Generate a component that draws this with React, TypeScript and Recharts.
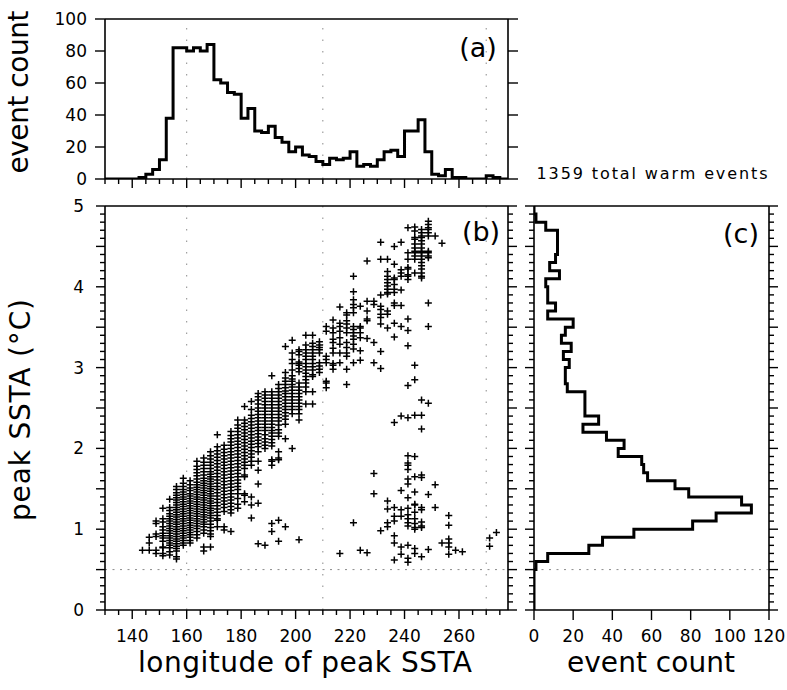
import { ScatterChart, Scatter, XAxis, YAxis, ReferenceLine } from "recharts";

const W = 787;
const H = 690;
const FONT = "'DejaVu Sans', sans-serif";
const INK = "#000";

// (a) event count per 2.5° longitude bin, bins start at 130°E
const lonBinStart = 130;
const lonBinWidth = 2.5;
const lonCounts = [
  0, 0, 0, 0, 0, 1, 3, 6, 12, 38,
  82, 82, 80, 82, 80, 84, 62, 60, 54, 53,
  38, 44, 30, 29, 33, 26, 23, 17, 20, 15,
  14, 11, 9, 13, 12, 13, 17, 8, 9, 8,
  12, 17, 18, 14, 30, 30, 37, 17, 3, 2,
  6, 1, 1, 0, 0, 0, 2, 1, 0, 0,
];

// (c) event count per 0.1 °C peak SSTA bin, bins start at 0
const sstaBinStart = 0;
const sstaBinWidth = 0.1;
const sstaCounts = [
  0, 0, 0, 0, 0, 1, 7, 28, 35, 51,
  81, 93, 111, 106, 79, 72, 58, 56, 55, 43,
  46, 37, 25, 33, 26, 26, 26, 17, 16, 16,
  18, 15, 19, 14, 16, 20, 7, 11, 7, 7,
  6, 13, 8, 11, 12, 12, 12, 6, 1, 0,
];

// (b) peak SSTA of each event, grouped by longitude column
const scatterColumns: [number, number[]][] = [
  [143.75, [0.74]],
  [146.25, [0.9, 0.83, 0.74]],
  [148.75, [1.1, 1.07, 0.94, 0.91, 0.74, 0.7]],
  [151.25, [1.26, 1.13, 1.09, 1.03, 0.99, 0.95, 0.92, 0.89, 0.85, 0.78, 0.77, 0.7, 0.67]],
  [153.75, [1.37, 1.27, 1.23, 1.19, 1.16, 1.13, 1.1, 1.07, 1.04, 1.01, 0.98, 0.95, 0.92, 0.89, 0.86, 0.83, 0.8, 0.77, 0.72, 0.68]],
  [156.25, [1.53, 1.49, 1.45, 1.42, 1.39, 1.36, 1.33, 1.3, 1.27, 1.24, 1.21, 1.18, 1.15, 1.12, 1.09, 1.06, 1.03, 1.0, 0.97, 0.94, 0.91, 0.88, 0.85, 0.82, 0.79, 0.76, 0.73, 0.66, 0.63]],
  [158.75, [1.63, 1.57, 1.53, 1.49, 1.46, 1.43, 1.4, 1.37, 1.34, 1.31, 1.28, 1.25, 1.22, 1.19, 1.16, 1.13, 1.1, 1.07, 1.04, 1.01, 0.98, 0.95, 0.92, 0.89, 0.86, 0.83, 0.8]],
  [161.25, [1.6, 1.55, 1.51, 1.48, 1.44, 1.41, 1.38, 1.35, 1.32, 1.29, 1.26, 1.23, 1.2, 1.17, 1.14, 1.11, 1.08, 1.05, 1.02, 0.99, 0.96, 0.93, 0.9, 0.86, 0.83]],
  [163.75, [1.84, 1.78, 1.74, 1.7, 1.66, 1.62, 1.58, 1.55, 1.52, 1.49, 1.46, 1.43, 1.4, 1.37, 1.34, 1.31, 1.28, 1.25, 1.22, 1.19, 1.16, 1.13, 1.1, 1.07, 1.04, 1.01, 0.97, 0.93, 0.89]],
  [166.25, [1.88, 1.83, 1.79, 1.75, 1.71, 1.67, 1.63, 1.6, 1.57, 1.54, 1.51, 1.48, 1.45, 1.42, 1.39, 1.36, 1.33, 1.3, 1.27, 1.24, 1.21, 1.18, 1.15, 1.12, 1.09, 1.06, 1.03, 0.99, 0.95, 0.78, 0.73]],
  [168.75, [1.96, 1.91, 1.87, 1.83, 1.79, 1.75, 1.71, 1.68, 1.65, 1.62, 1.59, 1.56, 1.53, 1.5, 1.47, 1.44, 1.41, 1.38, 1.35, 1.32, 1.29, 1.26, 1.23, 1.2, 1.17, 1.14, 1.1, 1.06, 1.02, 0.98, 0.94, 0.91, 0.78]],
  [171.25, [2.17, 2.02, 1.97, 1.93, 1.89, 1.85, 1.81, 1.77, 1.73, 1.69, 1.65, 1.61, 1.57, 1.53, 1.49, 1.45, 1.41, 1.37, 1.33, 1.29, 1.25, 1.21, 1.17, 1.13, 1.11, 1.03]],
  [173.75, [2.04, 1.99, 1.95, 1.91, 1.87, 1.83, 1.79, 1.75, 1.71, 1.67, 1.63, 1.59, 1.55, 1.51, 1.47, 1.43, 1.39, 1.35, 1.31, 1.27, 1.22, 1.03, 0.99]],
  [176.25, [2.21, 2.16, 2.12, 2.08, 2.04, 2.0, 1.96, 1.92, 1.88, 1.84, 1.8, 1.76, 1.72, 1.68, 1.64, 1.6, 1.56, 1.52, 1.48, 1.44, 1.4, 1.36, 1.32, 1.28, 1.24, 1.2, 0.97]],
  [178.75, [2.35, 2.29, 2.25, 2.21, 2.17, 2.13, 2.09, 2.05, 2.01, 1.97, 1.93, 1.89, 1.85, 1.81, 1.77, 1.73, 1.69, 1.65, 1.61, 1.57, 1.53, 1.49, 1.44, 1.38, 1.31, 1.26]],
  [181.25, [2.52, 2.35, 2.31, 2.27, 2.23, 2.19, 2.15, 2.11, 2.07, 2.03, 1.99, 1.95, 1.91, 1.87, 1.83, 1.79, 1.75, 1.67, 1.65, 1.44, 1.42, 1.34]],
  [183.75, [2.58, 2.48, 2.41, 2.37, 2.33, 2.29, 2.25, 2.21, 2.17, 2.13, 2.09, 2.05, 2.01, 1.97, 1.93, 1.89, 1.84, 1.79, 1.4, 1.3, 1.14]],
  [186.25, [2.68, 2.64, 2.6, 2.55, 2.5, 2.46, 2.42, 2.38, 2.34, 2.3, 2.26, 2.22, 2.18, 2.14, 2.1, 2.06, 2.02, 1.96, 1.84, 1.73, 1.56, 1.32, 0.82]],
  [188.75, [2.7, 2.66, 2.62, 2.58, 2.54, 2.5, 2.46, 2.42, 2.38, 2.34, 2.3, 2.26, 2.22, 2.17, 2.12, 2.08, 2.04, 2.0, 0.8]],
  [191.25, [2.9, 2.7, 2.66, 2.62, 2.58, 2.54, 2.5, 2.46, 2.42, 2.38, 2.34, 2.3, 2.26, 2.22, 2.19, 2.15, 2.11, 2.07, 2.03, 1.86, 1.84, 1.79, 1.07, 0.97]],
  [193.75, [2.79, 2.74, 2.7, 2.66, 2.62, 2.58, 2.54, 2.5, 2.46, 2.42, 2.38, 2.34, 2.29, 2.23, 2.19, 2.15, 1.96, 1.88, 1.86, 1.11, 0.85]],
  [196.25, [3.26, 2.94, 2.87, 2.83, 2.79, 2.75, 2.71, 2.68, 2.64, 2.6, 2.56, 2.52, 2.48, 2.44, 2.4, 2.36, 2.3, 2.12, 1.03]],
  [198.75, [3.34, 3.18, 3.1, 3.05, 2.97, 2.9, 2.86, 2.83, 2.79, 2.76, 2.72, 2.68, 2.64, 2.6, 2.56, 2.52, 2.48, 2.43, 2.0]],
  [201.25, [3.22, 3.2, 3.16, 3.07, 3.05, 3.03, 2.99, 2.95, 2.81, 2.76, 2.72, 2.68, 2.64, 2.6, 2.56, 2.52, 2.48, 2.43, 2.35, 0.87]],
  [203.75, [3.4, 3.28, 3.22, 3.18, 3.14, 3.1, 3.05, 3.01, 2.97, 2.93, 2.89, 2.85, 2.81, 2.76, 2.7, 2.55]],
  [206.25, [3.4, 3.3, 3.26, 3.22, 3.18, 3.14, 3.1, 3.05, 3.01, 2.97, 2.91, 2.89, 2.7, 2.55]],
  [208.75, [3.32, 3.28, 3.25, 3.22, 3.18, 3.06, 3.02, 2.98, 2.94]],
  [211.25, [3.51, 3.45, 3.14, 3.1, 3.06, 2.83, 2.81, 2.75]],
  [213.75, [3.59, 3.49, 3.43, 3.35, 3.31, 3.24, 3.18, 3.05, 3.03, 2.98]],
  [216.25, [3.75, 3.55, 3.51, 3.45, 3.37, 3.29, 3.18, 3.06, 0.7]],
  [218.75, [3.68, 3.65, 3.58, 3.54, 3.49, 3.43, 3.31, 3.25, 3.18, 3.14, 2.98, 2.79]],
  [221.25, [4.13, 3.94, 3.84, 3.78, 3.74, 3.68, 3.51, 3.47, 3.43, 3.39, 3.35, 3.29, 3.23, 3.06, 1.08]],
  [223.75, [3.76, 3.51, 3.49, 3.43, 3.37, 3.21, 3.09, 0.74]],
  [226.25, [4.32, 3.82, 3.7, 3.6, 3.58, 3.36, 0.71]],
  [228.75, [3.82, 3.78, 3.31, 3.06, 1.69, 1.44]],
  [231.25, [4.55, 4.34, 3.9, 3.76, 3.72, 3.66, 3.62, 3.54, 3.2, 2.99, 0.98]],
  [233.75, [4.34, 4.19, 4.13, 4.09, 4.05, 4.01, 3.97, 3.93, 3.91, 3.7, 3.66, 3.49, 1.35, 1.25, 1.08, 1.03]],
  [236.25, [4.5, 4.28, 4.11, 4.09, 4.03, 3.97, 3.93, 3.8, 3.77, 3.55, 3.38, 2.32, 1.27, 1.16, 1.1, 0.92, 0.83, 0.62]],
  [238.75, [4.55, 4.21, 4.17, 4.13, 3.96, 3.77, 3.51, 2.4, 1.48, 1.24, 1.16, 0.78, 0.69]],
  [241.25, [4.73, 4.42, 4.34, 4.24, 4.22, 4.15, 4.13, 4.09, 3.6, 3.46, 3.27, 2.78, 2.38, 1.91, 1.82, 1.79, 1.74, 1.62, 1.56, 1.39, 1.26, 1.18, 1.13, 1.08, 1.04, 0.8, 0.64, 0.59]],
  [243.75, [4.74, 4.69, 4.61, 4.59, 4.53, 4.48, 4.44, 4.42, 4.38, 4.34, 4.17, 3.03, 2.85, 2.41, 1.9, 1.65, 1.46, 1.31, 1.3, 1.21, 1.13, 1.07, 1.02, 1.0, 0.76, 0.7]],
  [246.25, [4.71, 4.67, 4.63, 4.61, 4.57, 4.53, 4.48, 4.44, 4.42, 4.38, 4.34, 4.3, 4.26, 4.22, 4.17, 4.13, 4.11, 2.6, 2.41, 2.24, 1.67, 1.64, 1.27, 1.24, 1.09, 1.04, 1.02, 0.66]],
  [248.75, [4.81, 4.77, 4.73, 4.71, 4.67, 4.63, 4.44, 4.42, 4.38, 4.36, 3.8, 3.51, 2.56, 1.43, 0.75]],
  [251.25, [4.63, 1.55, 1.27]],
  [253.75, [4.54, 0.83]],
  [256.25, [1.17, 1.05, 0.88, 0.83, 0.78, 0.69]],
  [258.75, [0.74]],
  [261.25, [0.72]],
  [271.25, [0.89, 0.79]],
  [273.75, [0.96]],
];

const lonTicks = [
  130, 135, 140, 145, 150, 155, 160, 165, 170, 175, 180, 185, 190, 195, 200,
  205, 210, 215, 220, 225, 230, 235, 240, 245, 250, 255, 260, 265, 270, 275,
];
const lonLabels = [140, 160, 180, 200, 220, 240, 260];
const sstaTicks = [
  0, 0.1, 0.2, 0.3, 0.4, 0.5, 0.6, 0.7, 0.8, 0.9, 1, 1.1, 1.2, 1.3, 1.4, 1.5, 1.6,
  1.7, 1.8, 1.9, 2, 2.1, 2.2, 2.3, 2.4, 2.5, 2.6, 2.7, 2.8, 2.9, 3, 3.1, 3.2, 3.3,
  3.4, 3.5, 3.6, 3.7, 3.8, 3.9, 4, 4.1, 4.2, 4.3, 4.4, 4.5, 4.6, 4.7, 4.8, 4.9, 5,
];
const sstaLabels = [0, 1, 2, 3, 4, 5];
const countTicksA = [0, 20, 40, 60, 80, 100];
const countTicksC = [0, 20, 40, 60, 80, 100, 120];
const lonGuides = [160, 210, 270];
const sstaGuide = 0.5;

const lonDomain: [number, number] = [130, 278];
const sstaDomain: [number, number] = [0, 5];

const lonHist = lonCounts.flatMap((count, i) => [
  { lon: lonBinStart + i * lonBinWidth, count },
  { lon: lonBinStart + (i + 1) * lonBinWidth, count },
]);
const sstaHist = sstaCounts.flatMap((count, i) => [
  { ssta: sstaBinStart + i * sstaBinWidth, count },
  { ssta: sstaBinStart + (i + 1) * sstaBinWidth, count },
]);
const scatterData = scatterColumns.flatMap(([lon, vals]) => vals.map((ssta) => ({ lon, ssta })));

type Side = "top" | "bottom" | "left" | "right";

const lonLen = (v: number) => (v % 20 === 0 ? 9 : 5);
const sstaLen = (v: number) => (Math.round(v * 10) % 5 === 0 ? 9 : 5);
const countLen = () => 10;

// draws outward ticks (varying length) plus optional label
function makeTick(side: Side, lenOf: (v: number) => number, labelOf?: (v: number) => string | null, gap = 12) {
  return (props: any) => {
    const { x, y, payload } = props;
    const v = payload.value as number;
    const len = lenOf(v);
    const label = labelOf ? labelOf(v) : null;
    let x2 = x;
    let y2 = y;
    if (side === "bottom") y2 = y + len;
    if (side === "top") y2 = y - len;
    if (side === "left") x2 = x - len;
    if (side === "right") x2 = x + len;
    return (
      <g>
        <line x1={x} y1={y} x2={x2} y2={y2} stroke={INK} strokeWidth={1.4} />
        {label != null && side === "bottom" && (
          <text x={x} y={y + 32} textAnchor="middle" fontSize={17} fontFamily={FONT} fill={INK}>
            {label}
          </text>
        )}
        {label != null && side === "left" && (
          <text x={x - gap} y={y + 6} textAnchor="end" fontSize={17} fontFamily={FONT} fill={INK}>
            {label}
          </text>
        )}
      </g>
    );
  };
}

const axisLine = { stroke: INK, strokeWidth: 1.6 };
// axes are 1px thick (0 would hide them); margins below are reduced by 1 to compensate
const axisCommon = {
  type: "number" as const,
  allowDataOverflow: true,
  interval: 0 as const,
  tickSize: 0,
  tickMargin: 0,
  tickLine: false,
  axisLine,
};

const Plus = (p: any) => (
  <path d={`M${p.cx - 3.5},${p.cy}h7M${p.cx},${p.cy - 3.5}v7`} stroke={INK} strokeWidth={1.5} fill="none" />
);
const NoDot = () => <g />;

const isInt = (v: number) => Math.abs(v - Math.round(v)) < 1e-6;

function PanelA() {
  return (
    <ScatterChart width={W} height={H} margin={{ top: 18, left: 104, right: 278, bottom: 510 }}>
      <XAxis {...axisCommon} xAxisId="x" dataKey="lon" domain={lonDomain} ticks={lonTicks} height={1}
        tick={makeTick("bottom", lonLen)} />
      <XAxis {...axisCommon} xAxisId="xt" orientation="top" domain={lonDomain} ticks={lonTicks} height={1}
        tick={makeTick("top", lonLen)} />
      <YAxis {...axisCommon} yAxisId="y" dataKey="count" domain={[0, 100]} ticks={countTicksA} width={1}
        tick={makeTick("left", countLen, (v) => String(v), 18)} />
      <YAxis {...axisCommon} yAxisId="yr" orientation="right" domain={[0, 100]} ticks={countTicksA} width={1}
        tick={makeTick("right", countLen)} />
      {lonGuides.map((g) => (
        <ReferenceLine key={g} x={g} xAxisId="x" yAxisId="y" stroke="#8a8a8a" strokeWidth={1} strokeDasharray="1.5 10" />
      ))}
      <Scatter xAxisId="x" yAxisId="y" data={lonHist} shape={NoDot} isAnimationActive={false}
        line={{ stroke: INK, strokeWidth: 3, strokeLinejoin: "miter" }} />
    </ScatterChart>
  );
}

function PanelB() {
  return (
    <ScatterChart width={W} height={H} margin={{ top: 205, left: 104, right: 278, bottom: 79 }}>
      <XAxis {...axisCommon} xAxisId="x" dataKey="lon" domain={lonDomain} ticks={lonTicks} height={1}
        tick={makeTick("bottom", lonLen, (v) => (lonLabels.includes(v) ? String(v) : null))} />
      <XAxis {...axisCommon} xAxisId="xt" orientation="top" domain={lonDomain} ticks={lonTicks} height={1}
        tick={makeTick("top", lonLen)} />
      <YAxis {...axisCommon} yAxisId="y" dataKey="ssta" domain={sstaDomain} ticks={sstaTicks} width={1}
        tick={makeTick("left", sstaLen, (v) => (isInt(v) && sstaLabels.includes(Math.round(v)) ? String(Math.round(v)) : null), 21)} />
      <YAxis {...axisCommon} yAxisId="yr" orientation="right" domain={sstaDomain} ticks={sstaTicks} width={1}
        tick={makeTick("right", sstaLen)} />
      {lonGuides.map((g) => (
        <ReferenceLine key={g} x={g} xAxisId="x" yAxisId="y" stroke="#8a8a8a" strokeWidth={1} strokeDasharray="1.5 10" />
      ))}
      <ReferenceLine y={sstaGuide} xAxisId="x" yAxisId="y" stroke="#8a8a8a" strokeWidth={1} strokeDasharray="2 5.5" />
      <Scatter xAxisId="x" yAxisId="y" data={scatterData} shape={Plus} isAnimationActive={false} />
    </ScatterChart>
  );
}

function PanelC() {
  return (
    <ScatterChart width={W} height={H} margin={{ top: 205, left: 533, right: 17, bottom: 79 }}>
      <XAxis {...axisCommon} xAxisId="x" dataKey="count" domain={[0, 120]} ticks={countTicksC} height={1}
        tick={makeTick("bottom", countLen, (v) => String(v))} />
      <XAxis {...axisCommon} xAxisId="xt" orientation="top" domain={[0, 120]} ticks={countTicksC} height={1}
        tick={makeTick("top", countLen)} />
      <YAxis {...axisCommon} yAxisId="y" dataKey="ssta" domain={sstaDomain} ticks={sstaTicks} width={1}
        tick={makeTick("left", sstaLen)} />
      <YAxis {...axisCommon} yAxisId="yr" orientation="right" domain={sstaDomain} ticks={sstaTicks} width={1}
        tick={makeTick("right", sstaLen)} />
      <ReferenceLine y={sstaGuide} xAxisId="x" yAxisId="y" stroke="#8a8a8a" strokeWidth={1} strokeDasharray="2 5.5" />
      <Scatter xAxisId="x" yAxisId="y" data={sstaHist} shape={NoDot} isAnimationActive={false}
        line={{ stroke: INK, strokeWidth: 3, strokeLinejoin: "miter" }} />
    </ScatterChart>
  );
}

const layer: React.CSSProperties = { position: "absolute", left: 0, top: 0, width: W, height: H };

export default function App() {
  return (
    <div style={{ position: "absolute", left: 0, top: 0, width: W, height: H, background: "#fff", overflow: "hidden" }}>
      <div style={layer}><PanelA /></div>
      <div style={layer}><PanelB /></div>
      <div style={layer}><PanelC /></div>
      <svg style={layer} width={W} height={H}>
        <g fontFamily={FONT} fill={INK}>
          <text transform="translate(28,92) rotate(-90)" textAnchor="middle" fontSize={28} textLength={163} lengthAdjust="spacing">
            event count
          </text>
          <text transform="translate(30,410) rotate(-90)" textAnchor="middle" fontSize={28} textLength={222} lengthAdjust="spacing">
            peak SSTA (°C)
          </text>
          <text x={305} y={672} textAnchor="middle" fontSize={28} textLength={334} lengthAdjust="spacing">
            longitude of peak SSTA
          </text>
          <text x={651} y={672} textAnchor="middle" fontSize={28} textLength={168} lengthAdjust="spacing">
            event count
          </text>
          <text x={652} y={179} textAnchor="middle" fontSize={16} textLength={231} lengthAdjust="spacing">
            1359 total warm events
          </text>
          <text x={478} y={57} textAnchor="middle" fontSize={27}>(a)</text>
          <text x={481} y={241} textAnchor="middle" fontSize={27}>(b)</text>
          <text x={741} y={243} textAnchor="middle" fontSize={27}>(c)</text>
        </g>
      </svg>
    </div>
  );
}
